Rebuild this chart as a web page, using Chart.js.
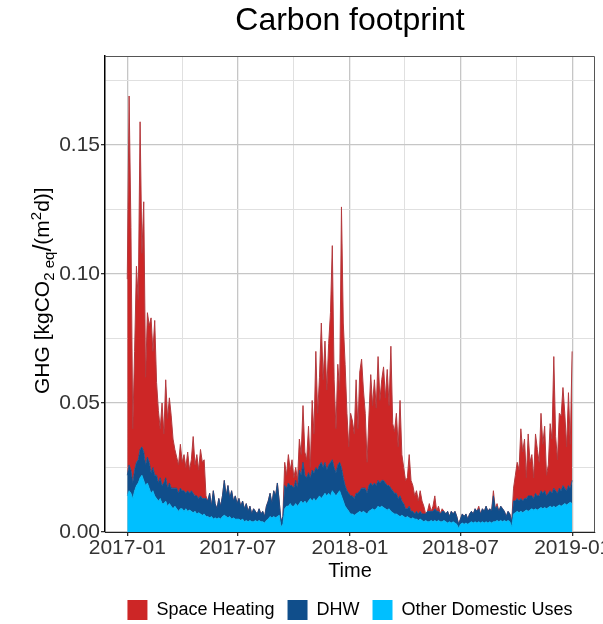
<!DOCTYPE html>
<html>
<head>
<meta charset="utf-8">
<title>Carbon footprint</title>
<script src="https://cdn.jsdelivr.net/npm/chart.js@4.4.1/dist/chart.umd.min.js"></script>
<style>
    html, body { margin: 0; padding: 0; background: #fff; overflow: hidden; }
</style>
</head>
<body>
<canvas id="myChart" width="603" height="624"></canvas>
<script>
// one sample every 3 days, day 0 = 2017-01-01
const sampleStep = 3;

// x ticks (days since 2017-01-01)
const tickDays = [0, 181, 365, 546, 730];
const tickLabels = ['2017-01', '2017-07', '2018-01', '2018-07', '2019-01'];
const minorDays = [90, 273, 455, 638];

const yTicks = [0, 0.025, 0.05, 0.075, 0.1, 0.125, 0.15, 0.175];
const yLabelled = [0, 0.05, 0.1, 0.15];

// heights of the stacked layers (kgCO2eq/(m2 d))
const otherUses = [
    0.014, 0.016, 0.015, 0.013, 0.016, 0.018, 0.019, 0.021, 0.022, 0.020,
    0.018, 0.019, 0.017, 0.015, 0.016, 0.014, 0.013, 0.012, 0.013, 0.011,
    0.011, 0.012, 0.010, 0.011, 0.010, 0.009, 0.010, 0.009, 0.008, 0.009,
    0.009, 0.008, 0.009, 0.008, 0.0085, 0.008, 0.0075, 0.008, 0.007, 0.0075,
    0.007, 0.0065, 0.007, 0.006, 0.006, 0.0055, 0.006, 0.005, 0.0055, 0.005,
    0.0055, 0.005, 0.006, 0.0065, 0.006, 0.0055, 0.006, 0.005, 0.0055, 0.005,
    0.005, 0.005, 0.0045, 0.005, 0.004, 0.0045, 0.004, 0.0045, 0.004, 0.004,
    0.0045, 0.004, 0.0045, 0.004, 0.004, 0.0035, 0.0045, 0.005, 0.006, 0.0055,
    0.006, 0.0055, 0.006, 0.0065, 0.002, 0.003, 0.009, 0.010, 0.010, 0.011,
    0.010, 0.010, 0.011, 0.010, 0.011, 0.012, 0.011, 0.012, 0.011, 0.012,
    0.013, 0.012, 0.013, 0.012, 0.013, 0.014, 0.013, 0.014, 0.015, 0.014,
    0.015, 0.014, 0.016, 0.015, 0.014, 0.015, 0.016, 0.014, 0.012, 0.010,
    0.009, 0.008, 0.007, 0.007, 0.0065, 0.007, 0.0075, 0.008, 0.0075, 0.008,
    0.0075, 0.007, 0.008, 0.0085, 0.009, 0.0085, 0.009, 0.010, 0.0095, 0.010,
    0.0095, 0.009, 0.0085, 0.009, 0.008, 0.0075, 0.007, 0.007, 0.0065, 0.006,
    0.0065, 0.006, 0.0055, 0.006, 0.0055, 0.005, 0.0055, 0.005, 0.005, 0.0045,
    0.005, 0.0045, 0.004, 0.0045, 0.004, 0.004, 0.0045, 0.004, 0.0045, 0.004,
    0.0045, 0.004, 0.004, 0.0045, 0.004, 0.0035, 0.004, 0.0035, 0.004, 0.0035,
    0.003, 0.0015, 0.003, 0.0035, 0.003, 0.0035, 0.003, 0.0035, 0.004, 0.0035,
    0.004, 0.0035, 0.004, 0.0035, 0.004, 0.0035, 0.004, 0.0035, 0.004, 0.0035,
    0.004, 0.004, 0.0045, 0.004, 0.0045, 0.004, 0.0045, 0.004, 0.0045, 0.004,
    0.002, 0.007, 0.0075, 0.008, 0.0075, 0.008, 0.0075, 0.008, 0.0085, 0.008,
    0.0085, 0.009, 0.0085, 0.009, 0.0085, 0.009, 0.0095, 0.009, 0.0095, 0.009,
    0.0095, 0.010, 0.0095, 0.010, 0.0095, 0.010, 0.0105, 0.010, 0.0105, 0.011,
    0.0105, 0.011, 0.0115, 0.011
];

const dhwLevel = [
    0.022, 0.026, 0.024, 0.019, 0.024, 0.027, 0.028, 0.032, 0.033, 0.031,
    0.026, 0.029, 0.027, 0.023, 0.025, 0.022, 0.022, 0.019, 0.021, 0.018,
    0.019, 0.021, 0.017, 0.019, 0.017, 0.017, 0.017, 0.017, 0.015, 0.017,
    0.016, 0.016, 0.015, 0.016, 0.015, 0.016, 0.015, 0.014, 0.014, 0.013,
    0.014, 0.013, 0.013, 0.013, 0.012, 0.015, 0.010, 0.016, 0.011, 0.009,
    0.013, 0.010, 0.014, 0.020, 0.014, 0.018, 0.013, 0.016, 0.012, 0.014,
    0.011, 0.013, 0.010, 0.012, 0.009, 0.011, 0.008, 0.010, 0.007, 0.009,
    0.008, 0.007, 0.009, 0.007, 0.008, 0.006, 0.010, 0.012, 0.015, 0.011,
    0.016, 0.014, 0.019, 0.012, 0.004, 0.006, 0.018, 0.017, 0.019, 0.018,
    0.018, 0.017, 0.020, 0.017, 0.024, 0.022, 0.027, 0.022, 0.021, 0.023,
    0.021, 0.024, 0.023, 0.025, 0.024, 0.026, 0.027, 0.025, 0.027, 0.024,
    0.026, 0.027, 0.028, 0.025, 0.023, 0.026, 0.027, 0.025, 0.021, 0.018,
    0.016, 0.015, 0.014, 0.014, 0.013, 0.015, 0.015, 0.016, 0.017, 0.017,
    0.017, 0.015, 0.018, 0.019, 0.018, 0.019, 0.018, 0.020, 0.019, 0.020,
    0.020, 0.019, 0.018, 0.018, 0.017, 0.016, 0.015, 0.015, 0.013, 0.014,
    0.012, 0.011, 0.009, 0.009, 0.010, 0.008, 0.008, 0.007, 0.008, 0.007,
    0.008, 0.007, 0.007, 0.007, 0.008, 0.008, 0.008, 0.008, 0.009, 0.008,
    0.008, 0.007, 0.008, 0.008, 0.007, 0.008, 0.006, 0.008, 0.007, 0.008,
    0.006, 0.003, 0.005, 0.007, 0.006, 0.007, 0.005, 0.007, 0.008, 0.007,
    0.009, 0.008, 0.009, 0.007, 0.009, 0.008, 0.010, 0.008, 0.009, 0.008,
    0.014, 0.009, 0.010, 0.008, 0.010, 0.009, 0.008, 0.006, 0.008, 0.007,
    0.004, 0.012, 0.012, 0.013, 0.012, 0.013, 0.012, 0.013, 0.013, 0.014,
    0.014, 0.014, 0.013, 0.015, 0.014, 0.014, 0.016, 0.015, 0.016, 0.014,
    0.015, 0.016, 0.015, 0.017, 0.016, 0.015, 0.017, 0.016, 0.018, 0.017,
    0.016, 0.018, 0.017, 0.020
];

const heatingLevel = [
    0.098, 0.169, 0.118, 0.040, 0.070, 0.103, 0.090, 0.159, 0.108, 0.128,
    0.060, 0.085, 0.080, 0.083, 0.070, 0.082, 0.058, 0.047, 0.040, 0.050,
    0.038, 0.059, 0.044, 0.052, 0.045, 0.036, 0.032, 0.029, 0.026, 0.034,
    0.027, 0.030, 0.025, 0.031, 0.024, 0.028, 0.037, 0.026, 0.030, 0.024,
    0.032, 0.027, 0.028, 0.014, 0.012, 0.015, 0.010, 0.016, 0.011, 0.009,
    0.013, 0.010, 0.014, 0.020, 0.014, 0.018, 0.013, 0.016, 0.012, 0.014,
    0.011, 0.013, 0.010, 0.012, 0.009, 0.011, 0.008, 0.010, 0.007, 0.009,
    0.008, 0.007, 0.009, 0.007, 0.008, 0.006, 0.010, 0.012, 0.015, 0.011,
    0.016, 0.014, 0.019, 0.012, 0.004, 0.006, 0.027, 0.022, 0.030, 0.024,
    0.028, 0.021, 0.025, 0.020, 0.036, 0.030, 0.049, 0.031, 0.028, 0.041,
    0.025, 0.051, 0.038, 0.070, 0.046, 0.060, 0.081, 0.059, 0.074, 0.055,
    0.073, 0.085, 0.111, 0.059, 0.040, 0.065, 0.055, 0.126, 0.081, 0.065,
    0.046, 0.033, 0.046, 0.043, 0.038, 0.059, 0.040, 0.062, 0.067, 0.055,
    0.046, 0.027, 0.045, 0.061, 0.049, 0.059, 0.048, 0.068, 0.051, 0.059,
    0.064, 0.052, 0.063, 0.049, 0.072, 0.042, 0.039, 0.046, 0.033, 0.051,
    0.030, 0.025, 0.020, 0.021, 0.030, 0.020, 0.018, 0.014, 0.016, 0.012,
    0.016, 0.012, 0.010, 0.007, 0.008, 0.011, 0.008, 0.010, 0.014, 0.008,
    0.010, 0.007, 0.009, 0.008, 0.007, 0.008, 0.006, 0.008, 0.007, 0.008,
    0.006, 0.003, 0.005, 0.007, 0.006, 0.007, 0.005, 0.007, 0.008, 0.007,
    0.009, 0.008, 0.010, 0.007, 0.009, 0.008, 0.010, 0.008, 0.009, 0.008,
    0.016, 0.009, 0.011, 0.008, 0.010, 0.009, 0.008, 0.006, 0.008, 0.007,
    0.004, 0.017, 0.022, 0.027, 0.024, 0.040, 0.031, 0.036, 0.021, 0.038,
    0.027, 0.030, 0.021, 0.038, 0.032, 0.027, 0.046, 0.034, 0.041, 0.022,
    0.026, 0.042, 0.036, 0.068, 0.037, 0.028, 0.046, 0.045, 0.056, 0.046,
    0.033, 0.054, 0.034, 0.070
];

const fontFamily = '"Liberation Sans", Arial, Helvetica, sans-serif';
Chart.defaults.font.family = fontFamily;

const days = otherUses.map((_, i) => i * sampleStep);
const toPoints = arr => arr.map((v, i) => ({ x: days[i], y: v }));

// top and right panel border
const framePlugin = {
    id: 'frame',
    afterDraw(chart) {
        const { ctx, chartArea: { left, top, right, bottom } } = chart;
        ctx.save();
        ctx.strokeStyle = '#555';
        ctx.lineWidth = 1;
        ctx.beginPath();
        ctx.moveTo(left, top + 0.5);
        ctx.lineTo(right - 0.5, top + 0.5);
        ctx.lineTo(right - 0.5, bottom);
        ctx.stroke();
        ctx.restore();
    }
};

// y title with subscript / superscript, written upwards from its bottom end
const yTitlePlugin = {
    id: 'yTitle',
    afterDraw(chart) {
        const ctx = chart.ctx;
        const parts = [
            { text: 'GHG [kgCO', size: 21, shift: 0 },
            { text: '2 eq', size: 15, shift: 5 },
            { text: '/', size: 25, shift: 2 },
            { text: '(m', size: 21, shift: 0 },
            { text: '2', size: 15, shift: -8 },
            { text: 'd)]', size: 21, shift: 0 }
        ];
        ctx.save();
        ctx.translate(42, 394);
        ctx.rotate(-Math.PI / 2);
        ctx.textBaseline = 'alphabetic';
        ctx.fillStyle = '#000';
        let x = 0;
        parts.forEach(p => {
            ctx.font = `${p.size}px ${fontFamily}`;
            ctx.fillText(p.text, x, 7 + p.shift);
            x += ctx.measureText(p.text).width;
        });
        ctx.restore();
    }
};

const ctx = document.getElementById('myChart').getContext('2d');

new Chart(ctx, {
    type: 'line',
    data: {
        datasets: [{
            label: 'Other Domestic Uses',
            data: toPoints(otherUses),
            backgroundColor: '#00BFFF',
            borderColor: '#00B2EE',
            borderWidth: 0.8,
            fill: 'origin'
        }, {
            label: 'DHW',
            data: toPoints(dhwLevel),
            backgroundColor: '#104E8B',
            borderColor: '#104E8B',
            borderWidth: 0.8,
            fill: '-1'
        }, {
            label: 'Space Heating',
            data: toPoints(heatingLevel),
            backgroundColor: '#CD2626',
            borderColor: '#B3393D',
            borderWidth: 1,
            fill: '-1'
        }]
    },
    options: {
        responsive: false,
        animation: false,
        devicePixelRatio: 1,
        elements: { point: { radius: 0 }, line: { tension: 0 } },
        layout: { padding: { top: 0, left: 0, right: 8, bottom: -6 } },
        scales: {
            x: {
                type: 'linear',
                min: -36.5,
                max: 766.5,
                afterBuildTicks: axis => {
                    axis.ticks = [...tickDays, ...minorDays].sort((a, b) => a - b).map(v => ({ value: v }));
                },
                afterFit: scale => {
                    scale.height = 55;
                    scale.paddingLeft = 0;
                    scale.paddingRight = 0;
                },
                ticks: {
                    autoSkip: false,
                    maxRotation: 0,
                    padding: 0,
                    color: '#333',
                    font: { size: 21 },
                    callback: value => {
                        const k = tickDays.indexOf(value);
                        return k >= 0 ? tickLabels[k] : '';
                    }
                },
                grid: {
                    color: c => (c.tick && tickDays.includes(c.tick.value)) ? '#c6c6c6' : '#e0e0e0',
                    lineWidth: c => (c.tick && tickDays.includes(c.tick.value)) ? 1.3 : 1,
                    tickColor: c => (c.tick && tickDays.includes(c.tick.value)) ? '#333' : 'rgba(0,0,0,0)',
                    tickLength: 4
                },
                border: { display: true, color: '#222', width: 1 },
                title: {
                    display: true,
                    text: 'Time',
                    color: '#000',
                    font: { size: 20 },
                    padding: { top: 0, bottom: 4 }
                }
            },
            y: {
                min: 0,
                max: 0.1845,
                afterBuildTicks: axis => {
                    axis.ticks = yTicks.map(v => ({ value: v }));
                },
                afterFit: scale => {
                    scale.width = 105;
                    scale.paddingTop = 0;
                    scale.paddingBottom = 0;
                },
                ticks: {
                    padding: 1,
                    color: '#333',
                    font: { size: 21 },
                    callback: v => yLabelled.includes(v) ? v.toFixed(2) : ''
                },
                grid: {
                    color: c => (c.tick && yLabelled.includes(c.tick.value)) ? '#c6c6c6' : '#e0e0e0',
                    lineWidth: c => (c.tick && yLabelled.includes(c.tick.value)) ? 1.3 : 1,
                    tickColor: c => (c.tick && yLabelled.includes(c.tick.value)) ? '#333' : 'rgba(0,0,0,0)',
                    tickLength: 4
                },
                border: { display: true, color: '#000', width: 1.5 }
            }
        },
        plugins: {
            tooltip: { enabled: false },
            title: {
                display: true,
                text: 'Carbon footprint',
                fullSize: false,
                color: '#000',
                font: { size: 32, weight: 'normal' },
                padding: { top: 2, bottom: 15.6 }
            },
            legend: {
                position: 'bottom',
                fullSize: false,
                reverse: true,
                labels: {
                    boxWidth: 20,
                    boxHeight: 20,
                    padding: 13,
                    color: '#000',
                    font: { size: 18 },
                    generateLabels: chart => Chart.defaults.plugins.legend.labels.generateLabels(chart)
                        .map(item => ({ ...item, lineWidth: 0, strokeStyle: item.fillStyle }))
                }
            }
        }
    },
    plugins: [framePlugin, yTitlePlugin]
});
</script>
</body>
</html>
